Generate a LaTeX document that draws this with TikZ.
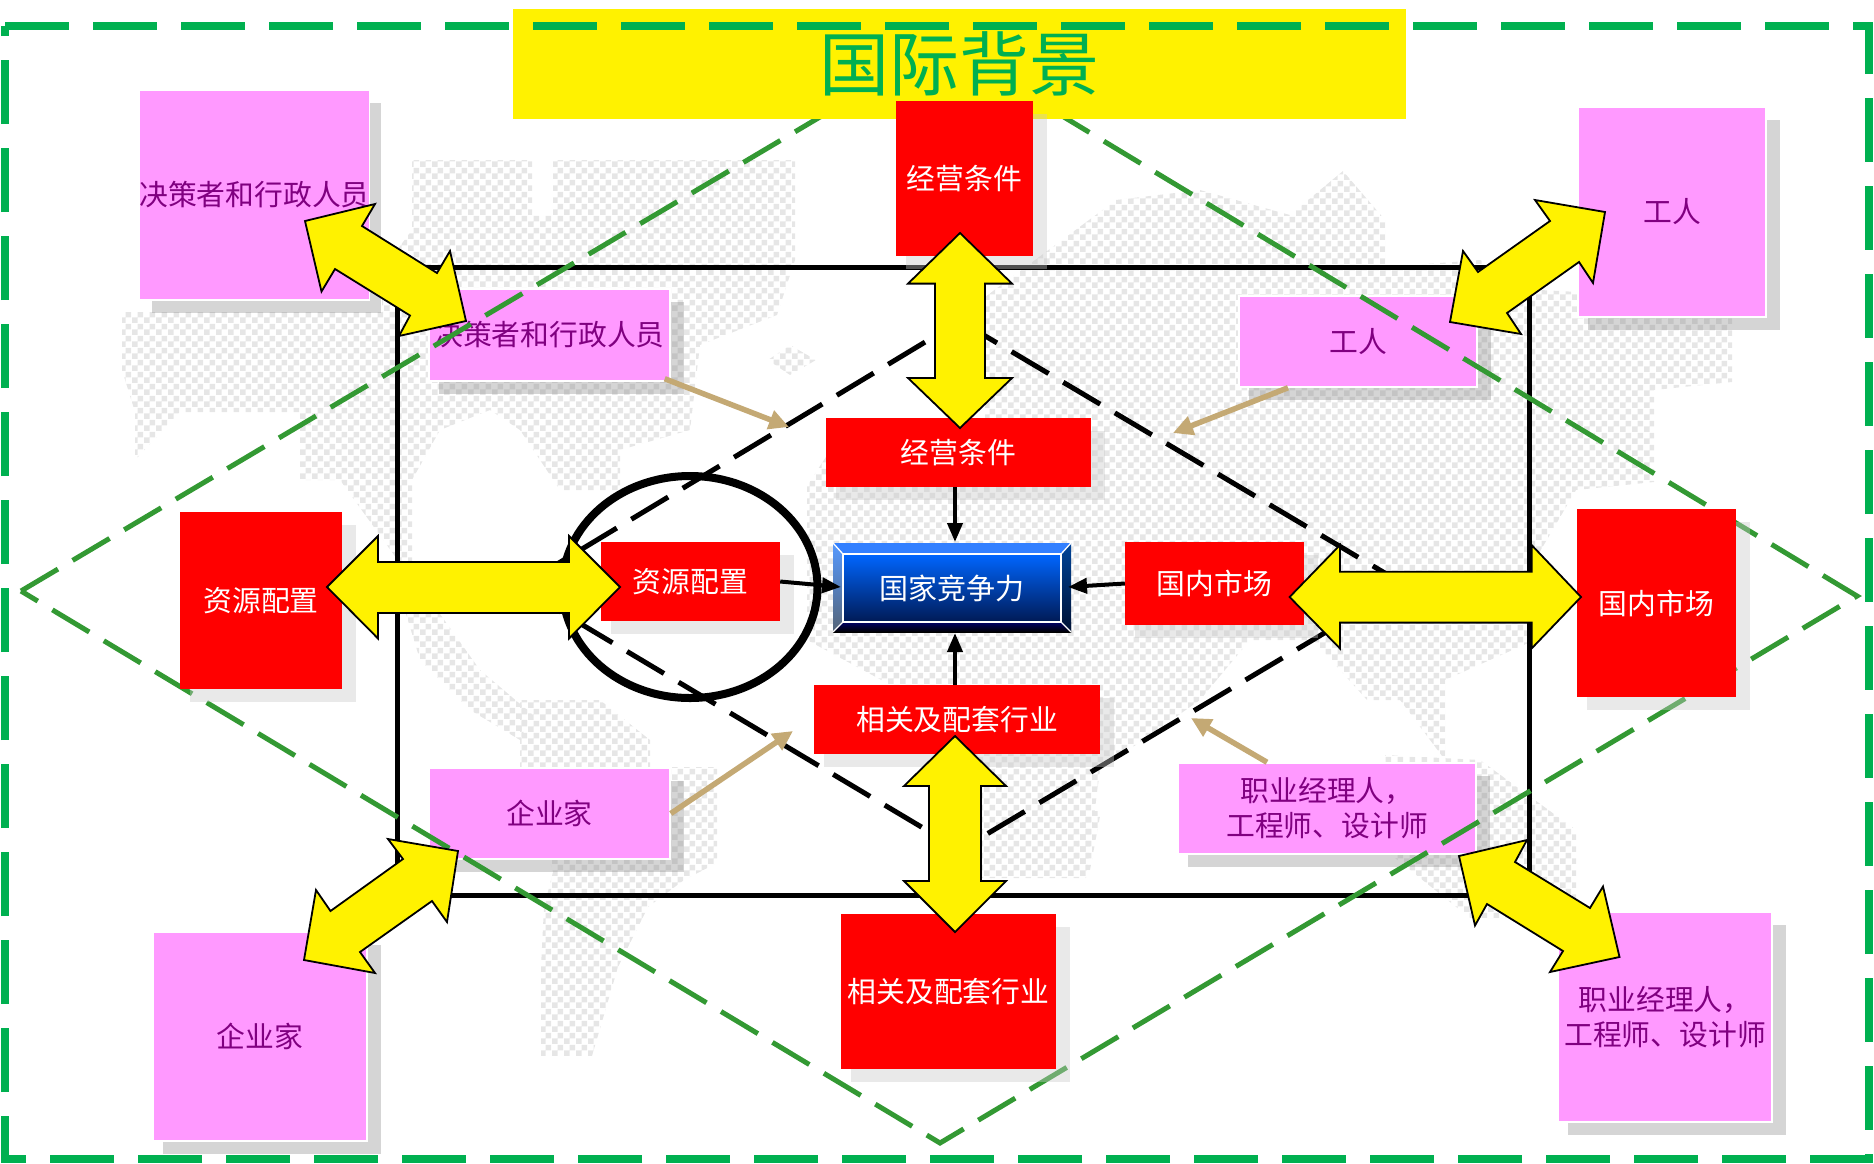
\documentclass[tikz,border=0pt]{standalone}
\usepackage{fontspec}
\setmainfont{Noto Sans CJK SC}
\usetikzlibrary{patterns,arrows.meta,shapes.geometric}
\definecolor{outergreen}{HTML}{00B050}
\definecolor{diagreen}{HTML}{339933}
\definecolor{pinkfill}{HTML}{FF99FF}
\definecolor{purpletext}{HTML}{800080}
\definecolor{tan}{HTML}{C4A974}
\definecolor{mapgray}{HTML}{E6E6E6}
\pgfdeclarepatternformonly{dither}{\pgfqpoint{0pt}{0pt}}{\pgfqpoint{12pt}{12pt}}{\pgfqpoint{12pt}{12pt}}{%
  \pgfpathrectangle{\pgfqpoint{0pt}{0pt}}{\pgfqpoint{6pt}{6pt}}%
  \pgfpathrectangle{\pgfqpoint{6pt}{6pt}}{\pgfqpoint{6pt}{6pt}}%
  \pgfusepath{fill}}
\tikzset{
  mapblob/.style={pattern=dither,pattern color=mapgray,draw=none},
  pinkshadow/.style={fill=black!50,opacity=.33,draw=none},
  redshadow/.style={fill=black!21,opacity=.4,draw=none},
  pinkbox/.style={draw=white,line width=1.5pt,fill=pinkfill,text=purpletext,inner sep=0pt,align=center,font=\fontsize{28.8}{35}\selectfont},
  redbox/.style={draw=none,fill=red,text=white,inner sep=0pt,align=center,font=\fontsize{28.8}{35}\selectfont},
  dblarrow/.style={draw=black,line width=1.8pt,fill=yellow,line join=miter},
  thinarrow/.style={draw=black,line width=4pt,-{Triangle[length=19pt,width=15pt]},shorten >=0pt},
  tanarrow/.style={draw=tan,line width=5.5pt,-{Triangle[length=20pt,width=19pt]}},
  greendash/.style={draw=diagreen,line width=5pt,dash pattern=on 43pt off 17pt},
  blackdash/.style={draw=black,line width=5pt,dash pattern=on 43pt off 17pt},
}
\newcommand{\boxn}[7]{%
  \fill[#6shadow] ({#2+10},{#3+13}) rectangle ({#4+14},{#5+13});
  \node[#6box,minimum width={(#4-#2)*1pt},minimum height={(#5-#3)*1pt}] (#1) at ({(#2+#4)/2},{(#3+#5)/2}) {#7};
}
\begin{document}
\begin{tikzpicture}[x=1pt,y=-1pt]
\useasboundingbox (0,0) rectangle (1874,1163);
% world map
\fill[mapblob] (122,312) -- (382,312) -- (382,270) -- (412,230) -- (412,160) -- (532,160) -- (532,215) -- (553,215) -- (553,160) -- (795,160) -- (795,260) -- (777,315) -- (700,345) -- (690,430) -- (620,450) -- (620,490) -- (560,490) -- (520,430) -- (490,410) -- (440,430) -- (412,480) -- (412,580) -- (340,480) -- (300,480) -- (300,412) -- (180,412) -- (135,460) -- (135,412) -- (122,370) -- cycle;
\fill[mapblob] (768,360) -- (790,345) -- (816,360) -- (790,375) -- cycle;
\fill[mapblob] (406,614) -- (440,614) -- (480,670) -- (532,714) -- (520,740) -- (470,710) -- (420,660) -- cycle;
\fill[mapblob] (520,700) -- (600,700) -- (650,740) -- (650,767) -- (717,767) -- (717,863) -- (684,880) -- (648,907) -- (618,967) -- (592,1056) -- (541,1056) -- (541,967) -- (544,907) -- (553,872) -- (520,767) -- cycle;
\fill[mapblob] (1116,200) -- (1200,190) -- (1290,215) -- (1343,171) -- (1385,220) -- (1385,267) -- (1480,260) -- (1540,290) -- (1732,300) -- (1732,382) -- (1654,390) -- (1654,482) -- (1576,490) -- (1535,560) -- (1535,640) -- (1445,680) -- (1445,760) -- (1400,700) -- (1367,700) -- (1313,640) -- (1250,640) -- (1200,700) -- (1100,770) -- (1086,878) -- (973,878) -- (973,780) -- (900,690) -- (807,640) -- (807,486) -- (850,420) -- (985,420) -- (985,297) -- cycle;
\fill[mapblob] (1385,755) -- (1480,760) -- (1576,830) -- (1576,918) -- (1470,918) -- (1385,850) -- cycle;
\fill[mapblob] (1071,870) -- (1085,811) -- (1101,811) -- (1090,870) -- cycle;
% frame and inner diamond
\node[draw=black,line width=5pt,inner sep=0pt,minimum width=1132pt,minimum height=628pt] (frame) at (963,581) {};
\coordinate (bt) at (960,321); \coordinate (br) at (1405,585); \coordinate (bb) at (960,850); \coordinate (bl) at (519,587);
\draw[blackdash] (bt) -- (br) -- (bb) -- (bl) -- cycle;
\node[draw=black,line width=8pt,ellipse,inner sep=0pt,minimum width=255pt,minimum height=222pt] (ring) at (690,587) {};
% inner person boxes
\boxn{pinkDL}{429}{289}{670}{381}{pink}{决策者和行政人员}
\boxn{pinkWK}{1239}{296}{1477}{387}{pink}{工人}
\boxn{pinkEN}{429}{768}{670}{859}{pink}{企业家}
\boxn{pinkPM}{1178}{763}{1476}{854}{pink}{职业经理人，\\工程师、设计师}
% outer diamond
\coordinate (gt) at (943,44); \coordinate (gr) at (1857,596); \coordinate (gb) at (940,1143); \coordinate (gl) at (21,591);
\draw[greendash] (gl) -- (gt) -- (gr) -- (gb) -- cycle;
% title
\node[fill=yellow,inner sep=0pt,minimum width=893pt,minimum height=110pt,text=outergreen,font=\fontsize{70}{80}\selectfont] (title) at (959.5,64) {国际背景};
% outer boxes
\boxn{pinkDLo}{142}{90}{367}{300}{pink}{决策者和行政人员}
\boxn{pinkWKo}{1578}{107}{1766}{317}{pink}{工人}
\boxn{pinkENo}{153}{932}{367}{1141}{pink}{企业家}
\boxn{pinkPMo}{1558}{912}{1772}{1122}{pink}{职业经理人，\\工程师、设计师}
\boxn{redOPo}{896}{101}{1033}{256}{red}{经营条件}
\boxn{redRAo}{180}{512}{342}{689}{red}{资源配置}
\boxn{redDMo}{1577}{509}{1736}{697}{red}{国内市场}
\boxn{redRIo}{841}{914}{1056}{1069}{red}{相关及配套行业}
% inner factor boxes
\boxn{redOP}{826}{418}{1091}{487}{red}{经营条件}
\boxn{redRA}{601}{542}{780}{621}{red}{资源配置}
\boxn{redDM}{1125}{542}{1304}{625}{red}{国内市场}
\boxn{redRI}{814}{685}{1100}{754}{red}{相关及配套行业}
% centre box
\fill[top color=black!85!blue,bottom color=black] (833,622) rectangle (1071,632);
\path[shade,top color=blue!100!green!40!black,bottom color=black] (833,622) -- (843,622) -- (1061,622) -- (1071,632) -- (833,632) -- cycle;
\fill[color={rgb,255:red,51;green,128;blue,255}] (833,543) -- (1071,543) -- (1061,554) -- (843,554) -- cycle;
\path[top color={rgb,255:red,85;green,153;blue,255},bottom color={rgb,255:red,85;green,100;blue,120}] (833,543) -- (843,554) -- (843,622) -- (833,632) -- cycle;
\path[top color={rgb,255:red,0;green,68;blue,153},bottom color={rgb,255:red,0;green,17;blue,51}] (1071,543) -- (1061,554) -- (1061,622) -- (1071,632) -- cycle;
\node[draw=white,line width=1.3pt,top color={rgb,255:red,0;green,102;blue,255},bottom color={rgb,255:red,0;green,26;blue,85},minimum width=218pt,minimum height=68pt,inner sep=0pt,text=white,font=\fontsize{29}{35}\selectfont] (blue) at (952,588) {国家竞争力};
\draw[white,line width=1.3pt] (833,543) -- (blue.north west) (1071,543) -- (blue.north east) (833,632) -- (blue.south west) (1071,632) -- (blue.south east);
% outer dashed frame
\draw[draw=outergreen,line width=8pt,dash pattern=on 64pt off 24pt] (5,26) -- (1869,26) -- (1869,1159) -- (5,1159) -- cycle;
% thin arrows into centre
\coordinate (cx) at (955,0);
\draw[thinarrow] (redOP.south -| cx) -- (833+122,542);
\draw[thinarrow] (redRI.north -| cx) -- (955,633);
\draw[thinarrow] (redRA.east) -- (841,587);
\draw[thinarrow] (redDM.west) -- (1068,587);
% tan arrows
\coordinate (tan1) at (789,427); \coordinate (tan2) at (1173,433); \coordinate (tan3) at (793,731); \coordinate (tan4) at (1191,718);
\draw[tanarrow] ([xshift=-6pt,yshift=3pt]pinkDL.south east) -- (tan1);
\draw[tanarrow] ([xshift=-70pt]pinkWK.south) -- (tan2);
\draw[tanarrow] (pinkEN.east) -- (tan3);
\draw[tanarrow] ([xshift=-60pt]pinkPM.north) -- (tan4);
% double arrows
\draw[dblarrow] (305,221) -- (375,204) -- (362,226) -- (437,273) -- (450,251) -- (466,321) -- (399,336) -- (410,315.5) -- (335,269) -- (321.5,291.5) -- cycle;
\draw[dblarrow] (1605,212) -- (1535,200) -- (1550,221) -- (1478,272) -- (1463,251) -- (1450,322) -- (1521,334) -- (1507,313) -- (1579,262) -- (1593,283) -- cycle;
\draw[dblarrow] (458,851) -- (388,839) -- (403,859) -- (330.5,911) -- (316,890) -- (304,960) -- (375,973) -- (360,952) -- (432,901) -- (447,922) -- cycle;
\draw[dblarrow] (1459,856) -- (1527,840) -- (1515,862) -- (1590,908) -- (1603,886.5) -- (1619.5,957) -- (1550,972) -- (1563,951) -- (1487,904) -- (1475,925.5) -- cycle;
\draw[dblarrow] (960,233) -- (1012,283.6) -- (985,283.6) -- (985,378) -- (1012,378) -- (960,428) -- (908,378) -- (935,378) -- (935,283.6) -- (908,283.6) -- cycle;
\draw[dblarrow] (955,736) -- (1006,786) -- (981,786) -- (981,881) -- (1006,881) -- (955,932) -- (904,881) -- (929,881) -- (929,786) -- (904,786) -- cycle;
\draw[dblarrow] (327,587) -- (378,536) -- (378,562) -- (569,562) -- (569,536) -- (620,587) -- (569,638.5) -- (569,613) -- (378,613) -- (378,638.5) -- cycle;
\draw[dblarrow] (1289.6,597) -- (1340,545) -- (1340,571.7) -- (1531.6,571.7) -- (1531.6,545) -- (1581,597) -- (1531.6,648.5) -- (1531.6,622.6) -- (1340,622.6) -- (1340,648.5) -- cycle;
\end{tikzpicture}
\end{document}
